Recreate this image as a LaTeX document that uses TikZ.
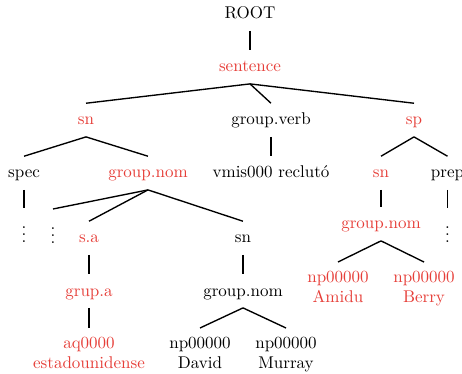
\documentclass[tikz,border=0pt]{standalone}
\definecolor{tred}{RGB}{230,62,56}
\begin{document}
\begin{tikzpicture}[x=0.5882pt,y=-0.5882pt,
  lab/.style={anchor=base,inner xsep=2pt,inner ysep=5pt,text height=7.6pt,text depth=1.8pt},
  two/.style={anchor=north,inner xsep=2pt,inner ysep=5pt,align=center},
  dots/.style={anchor=north,inner xsep=1pt,inner ysep=5pt},
  rd/.style={text=tred},
  edge/.style={line width=0.8pt}]
\clip (0,0) rectangle (462,374);
\useasboundingbox (0,0) rectangle (462,374);
% level 0-1
\node[lab] (root) at (250,19) {ROOT};
\node[lab,rd] (sent) at (250,72) {sentence};
% level 2
\node[lab,rd] (sn1) at (86,125) {sn};
\node[lab] (gv) at (271,125) {group.verb};
\node[lab,rd] (sp) at (414,125) {sp};
% level 3
\node[lab] (spec) at (24,178) {spec};
\node[lab,rd] (gn1) at (148,178) {group.nom};
\node[lab] (vmis) at (271,178) {vmis000 reclutó};
\node[lab,rd] (sn2) at (381,178) {sn};
\node[lab] (prep) at (447.5,178) {prep};
% level 4
\node[dots] (vd1) at (24,208) {$\vdots$};
\node[dots] (vd2) at (53,209) {$\vdots$};
\node[lab,rd] (sa) at (89,243) {s.a};
\node[lab] (sn3) at (243,243) {sn};
\node[lab,rd] (gn2) at (381,229) {group.nom};
\node[dots] (vd3) at (447.5,208) {$\vdots$};
% level 5
\node[lab,rd] (grupa) at (89,296) {grup.a};
\node[lab] (gn3) at (243,296) {group.nom};
\node[two,rd] (np1) at (338,262) {np00000\\Amidu};
\node[two,rd] (np2) at (424,262) {np00000\\Berry};
% level 6
\node[two,rd] (aq) at (89,328) {aq0000\\estadounidense};
\node[two] (np3) at (200,328) {np00000\\David};
\node[two] (np4) at (286,328) {np00000\\Murray};
% edges
\draw[edge] (root.south) -- (sent.north);
\draw[edge] (sent.south) -- (sn1.north);
\draw[edge] (sent.south) -- (gv.north);
\draw[edge] (sent.south) -- (sp.north);
\draw[edge] (sn1.south) -- (spec.north);
\draw[edge] (sn1.south) -- (gn1.north);
\draw[edge] (gv.south) -- (vmis.north);
\draw[edge] (sp.south) -- (sn2.north);
\draw[edge] (sp.south) -- (prep.north);
\draw[edge] (spec.south) -- (vd1.north);
\draw[edge] (gn1.south) -- (vd2.north);
\draw[edge] (gn1.south) -- (sa.north);
\draw[edge] (gn1.south) -- (sn3.north);
\draw[edge] (sn2.south) -- (gn2.north);
\draw[edge] (prep.south) -- (vd3.north);
\draw[edge] (sa.south) -- (grupa.north);
\draw[edge] (sn3.south) -- (gn3.north);
\draw[edge] (gn2.south) -- (np1.north);
\draw[edge] (gn2.south) -- (np2.north);
\draw[edge] (grupa.south) -- (aq.north);
\draw[edge] (gn3.south) -- (np3.north);
\draw[edge] (gn3.south) -- (np4.north);
\end{tikzpicture}
\end{document}
